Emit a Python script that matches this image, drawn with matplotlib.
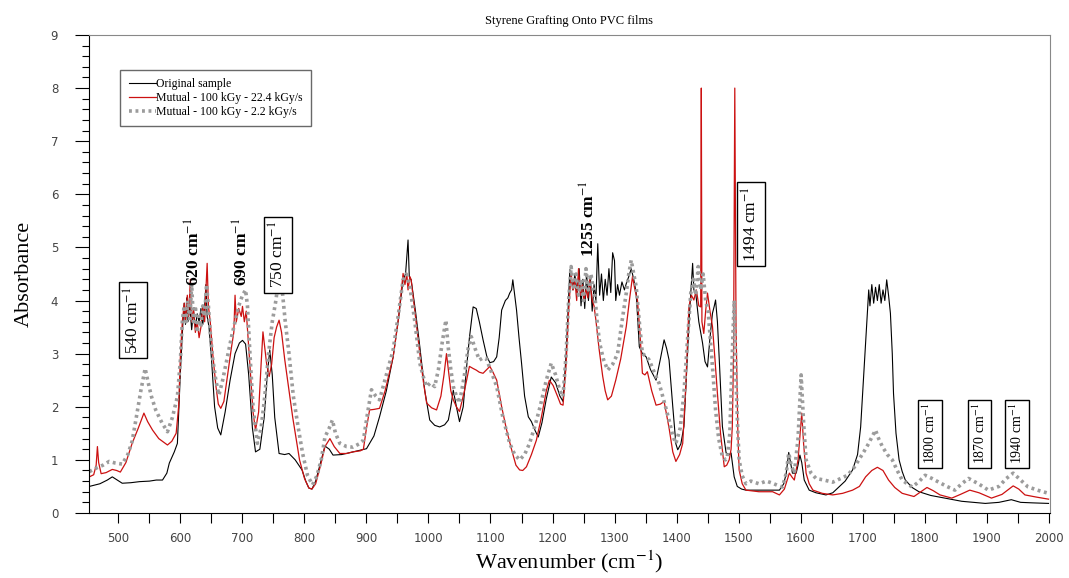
import numpy as np
import matplotlib
matplotlib.use("Agg")
import matplotlib.pyplot as plt
from matplotlib.ticker import MultipleLocator

# Original sample (black)
wn_orig = [453, 470, 482, 490, 498, 506, 520, 534, 550, 561, 571, 578, 582, 590, 595, 600, 604, 606, 608, 610,
           612, 615, 618, 621, 624, 627, 630, 633, 636, 639, 641, 643, 646, 650, 655, 660, 665, 672, 680, 688,
           695, 700, 705, 710, 716, 721, 728, 735, 740, 744, 748, 752, 759, 768, 775, 785, 796, 802, 807, 812,
           818, 826, 833, 840, 846, 860, 878, 900, 912, 921, 932, 943, 952, 959, 963, 967, 969, 972, 979, 986,
           994, 1002, 1010, 1018, 1026, 1032, 1036, 1040, 1045, 1050, 1056, 1061, 1066, 1072, 1077, 1082, 1088, 1094, 1099, 1105,
           1110, 1114, 1118, 1124, 1128, 1131, 1134, 1136, 1139, 1142, 1146, 1150, 1155, 1161, 1166, 1172, 1177, 1183, 1190, 1198,
           1205, 1212, 1217, 1222, 1228, 1233, 1236, 1240, 1243, 1246, 1249, 1252, 1255, 1258, 1261, 1264, 1267, 1270, 1273, 1276,
           1279, 1282, 1285, 1288, 1291, 1294, 1297, 1300, 1302, 1305, 1308, 1312, 1316, 1319, 1323, 1327, 1331, 1335, 1340, 1345,
           1351, 1358, 1367, 1374, 1380, 1384, 1388, 1394, 1399, 1402, 1407, 1412, 1417, 1421, 1426, 1428, 1431, 1436, 1442, 1446,
           1450, 1454, 1458, 1461, 1463, 1466, 1469, 1474, 1480, 1485, 1488, 1493, 1498, 1505, 1512, 1534, 1555, 1566, 1573, 1577,
           1581, 1584, 1587, 1593, 1596, 1599, 1602, 1606, 1614, 1625, 1641, 1652, 1662, 1672, 1684, 1692, 1697, 1701, 1705, 1708,
           1710, 1712, 1715, 1718, 1721, 1724, 1727, 1730, 1733, 1736, 1739, 1742, 1745, 1748, 1750, 1754, 1759, 1764, 1769, 1780,
           1791, 1810, 1833, 1860, 1880, 1898, 1920, 1940, 1955, 1975, 2000]
abs_orig = [0.50, 0.55, 0.62, 0.68, 0.62, 0.56, 0.57, 0.59, 0.60, 0.62, 0.62, 0.75, 0.94, 1.15, 1.31, 2.69, 3.6, 3.95, 3.55, 4.05,
            3.6, 3.9, 3.45, 3.8, 3.5, 3.75, 3.6, 3.85, 3.55, 3.9, 4.3, 3.7, 3.5, 2.9, 2.0, 1.6, 1.47, 1.9, 2.5, 3.0,
            3.2, 3.25, 3.18, 2.6, 1.6, 1.15, 1.2, 1.8, 2.6, 3.07, 2.6, 1.8, 1.12, 1.1, 1.12, 1.0, 0.81, 0.6, 0.47, 0.45,
            0.6, 0.95, 1.26, 1.2, 1.09, 1.1, 1.15, 1.21, 1.45, 1.81, 2.3, 2.94, 3.7, 4.39, 4.5, 5.14, 4.45, 4.39, 3.8, 3.13,
            2.3, 1.75, 1.65, 1.62, 1.66, 1.75, 2.0, 2.31, 2.0, 1.72, 2.0, 2.69, 3.3, 3.88, 3.85, 3.6, 3.26, 2.95, 2.83, 2.85,
            2.94, 3.3, 3.82, 4.0, 4.05, 4.14, 4.2, 4.39, 4.1, 3.82, 3.3, 2.83, 2.2, 1.81, 1.72, 1.55, 1.43, 1.7, 2.15, 2.56,
            2.45, 2.2, 2.10, 3.0, 4.58, 4.2, 4.5, 4.1, 4.6, 3.9, 4.4, 3.85, 4.5, 4.0, 4.45, 3.8, 4.3, 4.0, 5.07, 4.1,
            4.5, 4.0, 4.4, 4.1, 4.6, 4.15, 4.9, 4.75, 4.0, 4.3, 4.1, 4.35, 4.2, 4.32, 4.45, 4.6, 4.4, 4.14, 3.13, 3.0,
            2.94, 2.7, 2.5, 2.9, 3.26, 3.1, 2.88, 2.0, 1.3, 1.19, 1.3, 1.63, 2.8, 3.76, 4.70, 4.2, 4.14, 3.6, 3.2, 2.85,
            2.75, 3.3, 3.76, 3.9, 4.01, 3.6, 2.88, 1.63, 1.13, 1.1, 1.13, 0.68, 0.50, 0.45, 0.43, 0.43, 0.43, 0.43, 0.55, 0.75,
            1.14, 0.95, 0.75, 0.75, 0.9, 1.09, 0.95, 0.62, 0.43, 0.38, 0.34, 0.38, 0.49, 0.6, 0.81, 1.1, 1.62, 2.4, 3.19, 3.8,
            4.2, 3.9, 4.3, 3.95, 4.25, 4.0, 4.3, 3.95, 4.2, 4.0, 4.39, 4.1, 3.76, 3.0, 2.25, 1.5, 1.0, 0.78, 0.62, 0.48,
            0.40, 0.33, 0.28, 0.22, 0.2, 0.18, 0.2, 0.25, 0.2, 0.19, 0.18]

# Mutual - 100 kGy - 22.4 kGy/s (red)
wn_high = [453, 460, 464, 466, 468, 472, 480, 490, 497, 503, 512, 522, 532, 541, 547, 555, 565, 579, 586, 593,
           597, 600, 603, 606, 608, 611, 613, 616, 618, 621, 624, 627, 630, 633, 636, 639, 641, 643, 645, 648,
           652, 657, 661, 665, 670, 676, 682, 686, 688, 690, 694, 698, 700, 703, 706, 709, 713, 717, 721, 726,
           730, 733, 736, 739, 743, 747, 751, 755, 759, 763, 768, 775, 781, 786, 792, 800, 807, 812, 818, 826,
           833, 841, 848, 857, 868, 878, 890, 895, 900, 905, 912, 921, 930, 943, 951, 959, 962, 965, 967, 970,
           972, 979, 986, 992, 997, 1005, 1013, 1020, 1025, 1029, 1032, 1036, 1040, 1045, 1050, 1058, 1066, 1072, 1077, 1082,
           1088, 1094, 1099, 1104, 1110, 1118, 1126, 1135, 1141, 1147, 1152, 1158, 1166, 1174, 1182, 1190, 1195, 1201, 1208, 1213,
           1217, 1222, 1226, 1230, 1233, 1236, 1239, 1242, 1245, 1248, 1251, 1254, 1257, 1260, 1264, 1267, 1270, 1275, 1281, 1285,
           1289, 1295, 1302, 1310, 1319, 1324, 1329, 1333, 1337, 1341, 1345, 1349, 1353, 1360, 1367, 1374, 1380, 1388, 1394, 1399,
           1405, 1410, 1415, 1420, 1424, 1428, 1432, 1436, 1439, 1440, 1441, 1444, 1447, 1450, 1454, 1458, 1462, 1466, 1471, 1477,
           1481, 1485, 1488, 1490, 1492, 1494, 1496, 1499, 1501, 1506, 1512, 1533, 1555, 1566, 1574, 1582, 1586, 1590, 1596, 1602,
           1605, 1609, 1614, 1620, 1635, 1652, 1668, 1684, 1695, 1705, 1715, 1724, 1733, 1742, 1752, 1764, 1783, 1794, 1804, 1814,
           1825, 1844, 1858, 1873, 1888, 1908, 1925, 1943, 1952, 1962, 1980, 2000]
abs_high = [0.68, 0.72, 0.9, 1.25, 0.95, 0.74, 0.76, 0.82, 0.8, 0.77, 0.95, 1.31, 1.6, 1.88, 1.72, 1.56, 1.4, 1.28, 1.35, 1.50,
            2.0, 3.0, 3.6, 3.95, 3.6, 4.1, 3.7, 4.4, 3.6, 3.85, 3.4, 3.6, 3.3, 3.5, 3.9, 3.6, 4.2, 4.7, 3.9, 3.6,
            3.0, 2.4, 2.05, 1.97, 2.1, 2.6, 3.1, 3.4, 4.1, 3.6, 3.85, 3.7, 3.89, 3.6, 3.8, 3.3, 2.6, 1.9, 1.56, 1.9,
            2.8, 3.41, 3.1, 2.8, 2.57, 2.8, 3.3, 3.5, 3.63, 3.4, 2.9, 2.3, 1.8, 1.44, 1.0, 0.65, 0.47, 0.45, 0.55, 0.9,
            1.25, 1.40, 1.25, 1.12, 1.12, 1.15, 1.17, 1.2, 1.6, 1.94, 1.95, 1.97, 2.3, 2.94, 3.6, 4.51, 4.3, 4.5, 4.2, 4.45,
            4.39, 3.7, 3.0, 2.45, 2.07, 1.98, 1.94, 2.2, 2.6, 3.0, 2.7, 2.3, 2.13, 2.0, 1.91, 2.3, 2.76, 2.72, 2.69, 2.65,
            2.63, 2.7, 2.76, 2.65, 2.50, 2.0, 1.56, 1.15, 0.9, 0.81, 0.8, 0.87, 1.1, 1.37, 1.8, 2.3, 2.50, 2.4, 2.2, 2.05,
            2.03, 2.8, 3.8, 4.51, 4.2, 4.4, 4.0, 4.6, 4.1, 4.3, 4.0, 4.2, 4.05, 4.4, 4.0, 3.9, 3.63, 3.1, 2.57, 2.3,
            2.13, 2.2, 2.50, 2.9, 3.51, 4.0, 4.45, 4.2, 4.01, 3.4, 2.63, 2.6, 2.66, 2.3, 2.03, 2.05, 2.10, 1.6, 1.15, 0.97,
            1.1, 1.31, 2.4, 3.88, 4.1, 4.01, 4.2, 3.9, 3.88, 8.0, 3.6, 3.38, 3.8, 4.14, 3.8, 3.51, 2.9, 2.25, 1.5, 0.87,
            0.9, 1.0, 1.2, 1.63, 3.0, 8.0, 3.5, 1.5, 0.81, 0.55, 0.43, 0.40, 0.40, 0.34, 0.45, 0.75, 0.68, 0.62, 1.0, 1.88,
            1.3, 0.75, 0.55, 0.43, 0.37, 0.34, 0.37, 0.43, 0.5, 0.68, 0.8, 0.86, 0.8, 0.62, 0.48, 0.37, 0.31, 0.4, 0.48, 0.42,
            0.34, 0.28, 0.35, 0.43, 0.38, 0.28, 0.35, 0.51, 0.45, 0.34, 0.3, 0.26]

# Mutual - 100 kGy - 2.2 kGy/s (grey dotted)
wn_low = [453, 465, 475, 485, 495, 506, 515, 522, 528, 536, 543, 548, 553, 560, 570, 579, 587, 595, 600, 603,
          606, 609, 612, 615, 618, 621, 624, 627, 630, 633, 636, 639, 642, 645, 648, 652, 657, 662, 668, 675,
          682, 688, 694, 700, 705, 708, 712, 717, 724, 730, 736, 742, 748, 754, 757, 760, 764, 769, 775, 782,
          790, 797, 805, 813, 820, 827, 833, 840, 845, 850, 857, 868, 878, 888, 895, 902, 908, 915, 921, 932,
          943, 951, 959, 964, 970, 978, 986, 992, 997, 1003, 1010, 1016, 1022, 1028, 1032, 1036, 1040, 1045, 1050, 1058,
          1064, 1069, 1075, 1082, 1088, 1093, 1100, 1110, 1120, 1131, 1139, 1147, 1155, 1163, 1172, 1180, 1190, 1198, 1205, 1212,
          1217, 1222, 1226, 1230, 1234, 1238, 1242, 1246, 1250, 1254, 1258, 1262, 1266, 1268, 1272, 1276, 1282, 1289, 1297, 1305,
          1312, 1319, 1323, 1327, 1331, 1335, 1340, 1345, 1351, 1356, 1364, 1372, 1380, 1388, 1394, 1399, 1406, 1412, 1418, 1423,
          1427, 1431, 1435, 1439, 1443, 1447, 1451, 1455, 1459, 1463, 1468, 1474, 1479, 1482, 1486, 1490, 1493, 1496, 1499, 1501,
          1506, 1512, 1520, 1533, 1545, 1555, 1563, 1571, 1577, 1581, 1585, 1590, 1596, 1601, 1605, 1609, 1617, 1625, 1638, 1652,
          1665, 1676, 1686, 1694, 1702, 1710, 1716, 1721, 1726, 1732, 1740, 1748, 1756, 1764, 1772, 1780, 1790, 1801, 1812, 1823,
          1836, 1849, 1860, 1871, 1887, 1903, 1920, 1932, 1943, 1955, 1967, 1985, 2000]
abs_low = [0.78, 0.85, 0.9, 0.97, 0.94, 0.92, 1.1, 1.35, 1.75, 2.3, 2.72, 2.45, 2.2, 1.94, 1.7, 1.53, 1.8, 2.19, 2.9, 3.63,
           3.9, 3.6, 4.0, 3.6, 4.3, 3.6, 3.9, 3.4, 3.7, 3.5, 3.9, 3.7, 4.3, 3.9, 3.4, 2.9, 2.5, 2.22, 2.5, 2.9,
           3.3, 3.6, 3.9, 4.1, 4.2, 3.9, 3.0, 2.0, 1.31, 1.6, 2.2, 3.0, 3.6, 4.01, 4.3, 4.1, 4.2, 3.6, 3.0, 2.2,
           1.6, 1.12, 0.7, 0.53, 0.7, 1.0, 1.43, 1.6, 1.75, 1.5, 1.31, 1.25, 1.24, 1.3, 1.37, 1.9, 2.32, 2.2, 2.13, 2.6,
           3.07, 3.7, 4.39, 4.5, 4.26, 3.6, 2.82, 2.55, 2.38, 2.45, 2.38, 2.7, 3.2, 3.63, 3.1, 2.7, 2.38, 2.2, 2.07, 2.6,
           3.1, 3.32, 3.1, 2.88, 2.92, 2.91, 2.7, 2.38, 1.8, 1.31, 1.1, 1.0, 1.1, 1.31, 1.65, 2.0, 2.5, 2.82, 2.6, 2.3,
           2.19, 3.0, 4.0, 4.64, 4.2, 4.5, 4.1, 4.4, 4.0, 4.6, 4.2, 4.5, 4.2, 4.14, 3.6, 3.2, 2.9, 2.69, 2.8, 3.0,
           3.6, 4.14, 4.5, 4.76, 4.5, 4.26, 3.6, 3.0, 2.95, 2.88, 2.65, 2.44, 2.1, 1.75, 1.45, 1.31, 1.6, 2.25, 3.3, 4.14,
           4.4, 4.1, 4.64, 4.2, 4.5, 4.0, 3.8, 3.2, 2.6, 1.94, 1.4, 1.06, 1.0, 1.06, 1.5, 3.0, 4.0, 2.5, 1.5, 1.0,
           0.7, 0.55, 0.6, 0.55, 0.6, 0.56, 0.52, 0.49, 0.75, 1.13, 0.9, 0.75, 1.4, 2.6, 1.7, 1.0, 0.75, 0.65, 0.62, 0.58,
           0.65, 0.71, 0.85, 1.0, 1.15, 1.31, 1.45, 1.56, 1.4, 1.25, 1.1, 1.0, 0.8, 0.62, 0.55, 0.49, 0.58, 0.71, 0.65, 0.58,
           0.5, 0.43, 0.55, 0.65, 0.55, 0.43, 0.5, 0.65, 0.75, 0.62, 0.49, 0.42, 0.37]

series_labels = ["Original sample", "Mutual - 100 kGy - 22.4 kGy/s", "Mutual - 100 kGy - 2.2 kGy/s"]

# peak labels
peak_text = ["540 cm$^{-1}$", "620 cm$^{-1}$", "690 cm$^{-1}$", "750 cm$^{-1}$", "1255 cm$^{-1}$",
             "1494 cm$^{-1}$", "1800 cm$^{-1}$", "1870 cm$^{-1}$", "1940 cm$^{-1}$"]
peak_x = [523, 622, 699, 757, 1259, 1520, 1809, 1889, 1949]
peak_y = [3.63, 4.92, 4.92, 4.86, 5.54, 5.44, 1.49, 1.49, 1.49]

serif = "Liberation Serif"
plt.rcParams["mathtext.fontset"] = "stix"

fig = plt.figure(figsize=(10.69, 5.78), dpi=100)
ax = fig.add_axes([0.083, 0.1125, 0.899, 0.827])

ax.plot(wn_orig, abs_orig, color="black", lw=0.8, label=series_labels[0])
ax.plot(wn_high, abs_high, color="#cc1111", lw=0.9, label=series_labels[1])
ax.plot(wn_low, abs_low, color="#9c9c9c", lw=2.6, linestyle=(0, (0.8, 1.0)), label=series_labels[2])

for i in range(len(peak_text)):
    boxed = i in (0, 3, 5, 6, 7, 8)
    bold = i in (1, 2, 4)
    size = 10 if i >= 6 else 12.5
    bbox = dict(boxstyle="square,pad=0.25", fc="white", ec="black", lw=1.0) if boxed else None
    ax.text(peak_x[i], peak_y[i], peak_text[i], rotation=90, ha="center", va="center",
            fontsize=size, family=serif, fontweight="bold" if bold else "normal",
            bbox=bbox, zorder=5)

ax.set_xlim(452, 2002)
ax.set_ylim(0, 9)
ax.xaxis.set_major_locator(MultipleLocator(100))
ax.xaxis.set_minor_locator(MultipleLocator(50))
ax.yaxis.set_major_locator(MultipleLocator(1))
ax.yaxis.set_minor_locator(MultipleLocator(0.2))
ax.tick_params(which="both", direction="out", labelsize=8.5, labelcolor="#444444", width=0.8)
ax.tick_params(axis="y", which="major", length=10, pad=12)
ax.tick_params(axis="y", which="minor", length=5)
ax.tick_params(axis="x", which="both", length=7, pad=7)
for s in ["top", "right"]:
    ax.spines[s].set_color("#888888")

ax.set_title("Styrene Grafting Onto PVC films", family=serif, fontsize=9, pad=8)
ax.set_xlabel("Wavenumber (cm$^{-1}$)", family=serif, fontsize=16, labelpad=2)
ax.set_ylabel("Absorbance", family=serif, fontsize=16, labelpad=12)

leg = ax.legend(loc="upper left", bbox_to_anchor=(0.033, 0.927), prop={"family": serif, "size": 8.5},
                frameon=True, fancybox=False, handlelength=2.3, handletextpad=0.0,
                borderpad=0.7, labelspacing=0.15, borderaxespad=0)
leg.get_frame().set_edgecolor("#444444")
leg.get_frame().set_linewidth(1.0)

fig.savefig("out.png", dpi=100)
